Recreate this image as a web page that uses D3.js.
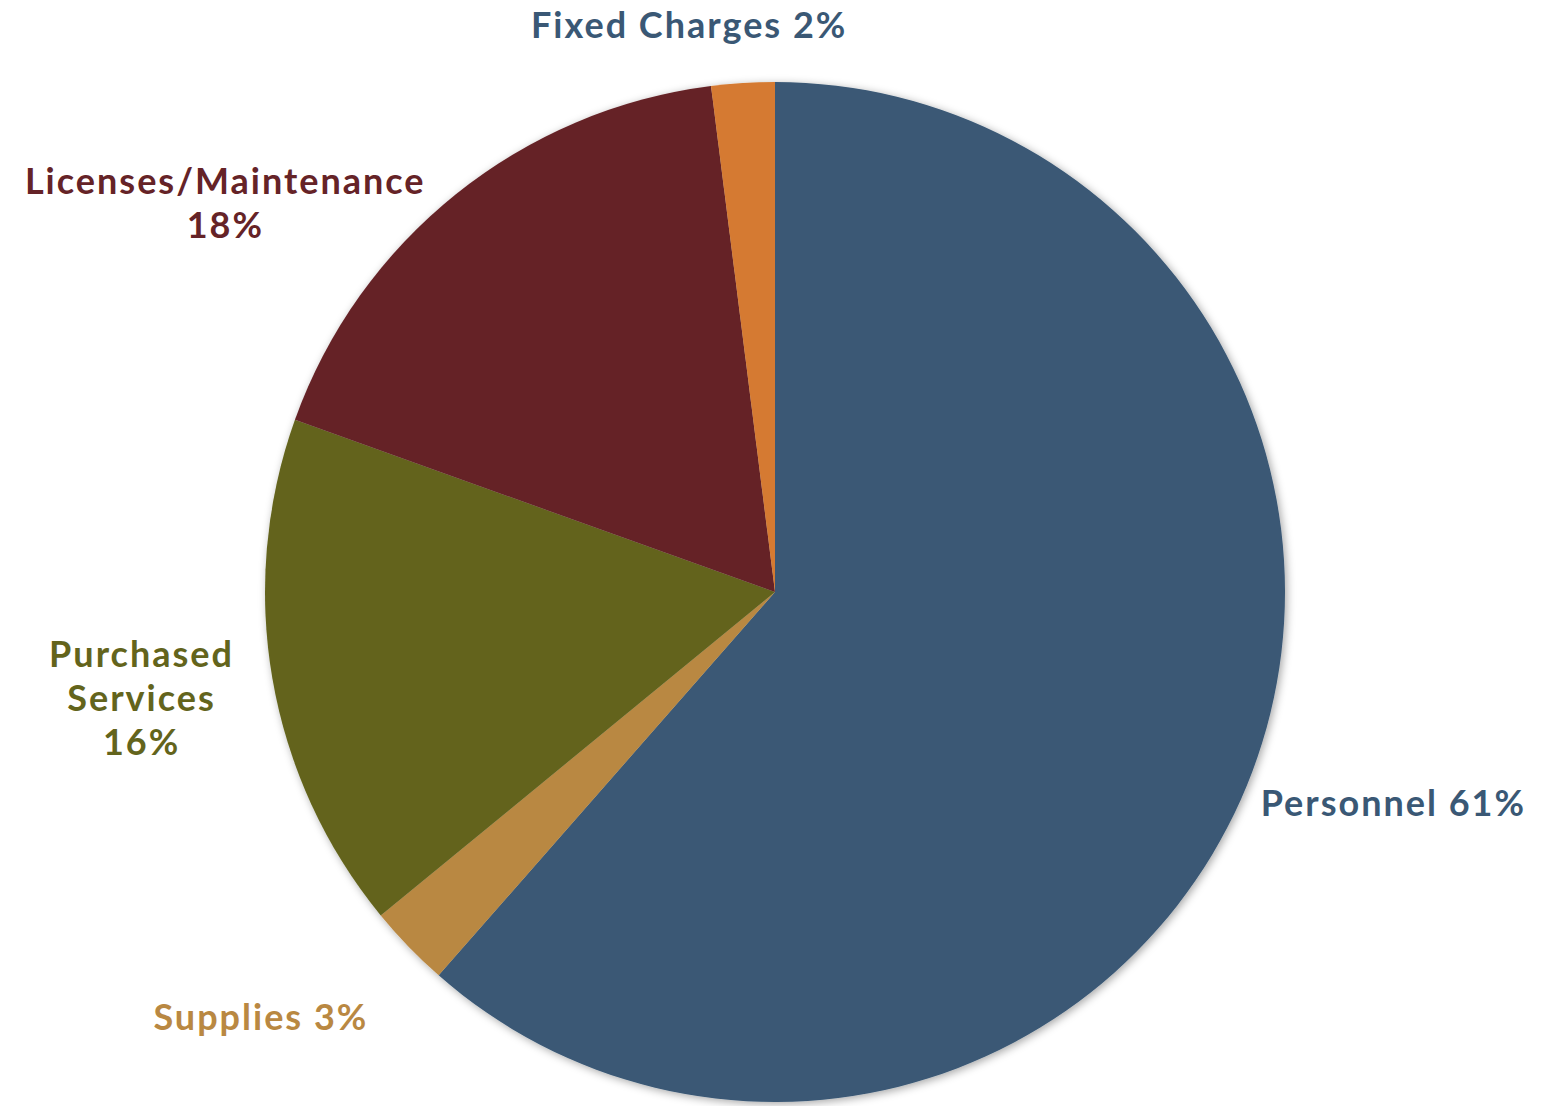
<!DOCTYPE html>
<html>
<head>
<meta charset="utf-8">
<script src="https://cdn.jsdelivr.net/npm/d3@7"></script>
<style>
  html, body { margin: 0; padding: 0; background: #fff; }
</style>
</head>
<body>
<div id="app"></div>
<script>
// chart data, clockwise from 12 o'clock
const categories = ['Personnel', 'Supplies', 'Purchased Services', 'Licenses/Maintenance', 'Fixed Charges'];
const shares = [61.4, 2.6, 16.4, 17.5, 2.0];
const pctLabels = ['61%', '3%', '16%', '18%', '2%'];
const sliceColors = ['#3a5875', '#b98842', '#63641c', '#652327', '#d57a30'];
const labelColors = ['#3a5875', '#b98842', '#63641c', '#652327', '#3a5875'];

(() => {
  const width = 1552;
  const height = 1106;
  const cx = 775;
  const cy = 592;
  const radius = 510;
  const labelRadius = 650;
  const fontSize = 36;
  const lineHeight = 44;

  // label layout tweaks (best-fit placement in the original)
  const labelLayout = {
    'Personnel': { dx: 9, dy: -18, lines: d => [`${d.name} ${d.pct}`] },
    'Supplies': { dx: -48, dy: -27, lines: d => [`${d.name} ${d.pct}`] },
    'Purchased Services': { dx: 6, dy: -5, lines: d => ['Purchased', 'Services', d.pct] },
    'Licenses/Maintenance': { dx: -144, dy: 118, lines: d => [d.name, d.pct] },
    'Fixed Charges': { dx: -46, dy: 82, lines: d => [`${d.name} ${d.pct}`] },
  };

  const rows = categories.map((name, i) => ({
    name, value: shares[i], pct: pctLabels[i], color: sliceColors[i], labelColor: labelColors[i],
  }));

  const svg = d3.select('#app')
    .append('svg')
    .attr('width', width)
    .attr('height', height);

  // soft shadow round the pie
  const filter = svg.append('defs')
    .append('filter')
    .attr('id', 'pie-shadow')
    .attr('x', '-10%')
    .attr('y', '-10%')
    .attr('width', '120%')
    .attr('height', '120%');
  filter.append('feDropShadow')
    .attr('dx', 2)
    .attr('dy', 2)
    .attr('stdDeviation', 4)
    .attr('flood-color', '#000')
    .attr('flood-opacity', 0.35);

  const pie = d3.pie().sort(null).value(d => d.value);
  const arcs = pie(rows);
  const arc = d3.arc().innerRadius(0).outerRadius(radius);
  const labelArc = d3.arc().innerRadius(labelRadius).outerRadius(labelRadius);

  const g = svg.append('g').attr('transform', `translate(${cx},${cy})`);

  g.append('g')
    .attr('filter', 'url(#pie-shadow)')
    .selectAll('path')
    .data(arcs)
    .enter()
    .append('path')
    .attr('d', arc)
    .style('fill', d => d.data.color);

  // labels
  const labels = g.selectAll('text.label')
    .data(arcs)
    .enter()
    .append('text')
    .attr('class', 'label')
    .attr('font-family', 'Lato, "Open Sans", sans-serif')
    .attr('font-size', `${fontSize}px`)
    .attr('font-weight', 700)
    .attr('letter-spacing', 2)
    .style('fill', d => d.data.labelColor)
    .style('text-anchor', 'middle');

  labels.each(function (d) {
    const layout = labelLayout[d.data.name];
    const [px, py] = labelArc.centroid(d);
    const x = px + layout.dx + 1;
    const y = py + layout.dy;
    const lines = layout.lines(d.data);
    const firstBaseline = y - ((lines.length - 1) * lineHeight) / 2 + fontSize * 0.36;
    d3.select(this).selectAll('tspan')
      .data(lines)
      .enter()
      .append('tspan')
      .attr('x', x)
      .attr('y', (t, i) => firstBaseline + i * lineHeight)
      .text(t => t);
  });
})();
</script>
</body>
</html>
